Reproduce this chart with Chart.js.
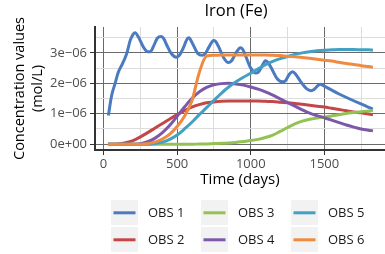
<!DOCTYPE html>
<html>
<head>
<meta charset="utf-8">
<script src="https://cdn.jsdelivr.net/npm/chart.js@4/dist/chart.umd.min.js"></script>
<style>
  html, body { margin: 0; padding: 0; background: #fff; }
  #wrap { width: 385px; height: 254px; }
</style>
</head>
<body>
<div id="wrap"><canvas id="ironChart" width="385" height="254"></canvas></div>
<script>
// values are in units of 1e-06 mol/L
const chartTitle = 'Iron (Fe)';
const seriesNames = ['OBS 1', 'OBS 2', 'OBS 3', 'OBS 4', 'OBS 5', 'OBS 6'];
const seriesColors = ['#4a7bc0', '#c44747', '#93c152', '#7b58a8', '#42a0c2', '#ef8b41'];

const obs1Days = [33, 55, 78, 101, 128, 157, 182, 200, 214, 237, 271, 300, 318, 340, 365, 392, 410, 430, 460, 495,
  515, 540, 567, 580, 600, 640, 670, 690, 715, 748, 760, 780, 815, 848, 870, 900, 930, 945, 965, 1000,
  1035, 1050, 1075, 1100, 1115, 1140, 1180, 1215, 1235, 1262, 1285, 1305, 1340, 1380, 1410, 1430, 1455, 1472, 1490, 1600, 1829];
const obs1 = [0.94, 1.60, 1.99, 2.37, 2.64, 2.97, 3.42, 3.60, 3.66, 3.52, 3.19, 3.04, 3.04, 3.22, 3.48, 3.54, 3.46, 3.25, 2.98, 2.86,
  2.92, 3.14, 3.45, 3.50, 3.35, 2.98, 2.92, 2.97, 3.18, 3.41, 3.38, 3.22, 2.85, 2.68, 2.74, 3.00, 3.17, 3.12, 2.90, 2.50,
  2.34, 2.36, 2.55, 2.74, 2.70, 2.50, 2.15, 2.05, 2.08, 2.30, 2.38, 2.30, 2.05, 1.82, 1.76, 1.80, 1.92, 1.97, 1.93, 1.65, 1.15];

const days = [30, 100, 150, 200, 250, 300, 350, 400, 450, 500, 550, 600, 650, 700, 750, 800, 850, 900, 950, 1000,
  1050, 1100, 1150, 1200, 1250, 1300, 1350, 1400, 1450, 1500, 1550, 1600, 1650, 1700, 1750, 1800, 1830];
const obs2 = [0, 0.01, 0.05, 0.12, 0.24, 0.38, 0.53, 0.68, 0.83, 0.97, 1.10, 1.22, 1.30, 1.36, 1.39, 1.41, 1.42, 1.42, 1.42, 1.42,
  1.42, 1.41, 1.40, 1.38, 1.36, 1.34, 1.31, 1.28, 1.25, 1.22, 1.18, 1.14, 1.10, 1.06, 1.03, 0.99, 0.97];
const obs3 = [0, 0, 0, 0, 0, 0, 0, 0, 0, 0, 0, 0, 0.005, 0.01, 0.02, 0.03, 0.04, 0.06, 0.09, 0.12,
  0.16, 0.22, 0.30, 0.42, 0.55, 0.67, 0.76, 0.82, 0.86, 0.89, 0.93, 0.97, 1.01, 1.04, 1.07, 1.09, 1.10];
const obs4 = [0, 0, 0, 0, 0.02, 0.08, 0.20, 0.38, 0.62, 0.92, 1.22, 1.50, 1.72, 1.87, 1.95, 1.99, 2.00, 1.98, 1.94, 1.88,
  1.81, 1.72, 1.61, 1.49, 1.37, 1.25, 1.13, 1.02, 0.94, 0.87, 0.79, 0.71, 0.63, 0.56, 0.50, 0.46, 0.44];
const obs5 = [0, 0, 0, 0, 0, 0, 0.02, 0.07, 0.16, 0.30, 0.50, 0.72, 0.97, 1.20, 1.44, 1.67, 1.88, 2.05, 2.20, 2.33,
  2.48, 2.61, 2.72, 2.81, 2.88, 2.95, 3.00, 3.04, 3.07, 3.09, 3.10, 3.11, 3.11, 3.11, 3.10, 3.10, 3.09];
const obs6 = [0, 0, 0, 0, 0, 0.02, 0.07, 0.17, 0.33, 0.58, 0.92, 1.42, 2.35, 2.90, 2.92, 2.93, 2.93, 2.93, 2.93, 2.93,
  2.93, 2.93, 2.92, 2.91, 2.89, 2.87, 2.85, 2.82, 2.79, 2.76, 2.73, 2.69, 2.65, 2.62, 2.58, 2.55, 2.53];

// major ticks get a label, minor ones only a light grid line
const xMajorTicks = [0, 500, 1000, 1500];
const xMinorTicks = [250, 750, 1250, 1750];
const yMajorTicks = [0, 1, 2, 3];
const yMinorTicks = [0.5, 1.5, 2.5, 3.5];
const yTickLabels = ['0e+00', '1e\u221206', '2e\u221206', '3e\u221206'];

const font = '"Open Sans", "Noto Sans", sans-serif';

const seriesData = [obs1, obs2, obs3, obs4, obs5, obs6];
const datasets = seriesData.map((vals, i) => {
  const xs = i === 0 ? obs1Days : days;
  return {
    label: seriesNames[i],
    data: vals.map((v, j) => ({ x: xs[j], y: v })),
    borderColor: seriesColors[i],
    backgroundColor: seriesColors[i],
    borderWidth: 3,
    pointRadius: 0,
    cubicInterpolationMode: 'monotone',
    fill: false,
    order: 6 - i
  };
});

function setTicks(major, minor) {
  return s => {
    s.ticks = major.concat(minor).sort((a, b) => a - b).map(v => ({ value: v, major: major.includes(v) }));
  };
}

// title + ggplot style legend (2 rows, filled by column)
const extras = {
  id: 'extras',
  afterDraw(chart) {
    const ctx = chart.ctx;
    ctx.save();
    ctx.fillStyle = '#000';
    ctx.font = '16.5px ' + font;
    ctx.textAlign = 'center';
    ctx.textBaseline = 'alphabetic';
    ctx.fillText(chartTitle, 236, 15.5);

    ctx.font = '13px ' + font;
    ctx.textAlign = 'left';
    ctx.textBaseline = 'middle';
    seriesNames.forEach((name, i) => {
      const col = Math.floor(i / 2), row = i % 2;
      const bx = 111 + col * 90, by = 200 + row * 27;
      ctx.fillStyle = '#f2f2f2';
      ctx.fillRect(bx, by, 27, 25);
      ctx.strokeStyle = seriesColors[i];
      ctx.lineWidth = 3;
      ctx.beginPath();
      ctx.moveTo(bx + 2.5, by + 12.8);
      ctx.lineTo(bx + 24.5, by + 12.8);
      ctx.stroke();
      ctx.fillStyle = '#1a1a1a';
      ctx.fillText(name, bx + 37, by + 13.5);
    });
    ctx.restore();
  }
};

new Chart(document.getElementById('ironChart'), {
  type: 'line',
  data: { datasets: datasets },
  options: {
    responsive: false,
    animation: false,
    devicePixelRatio: 1,
    layout: { padding: { top: 27, bottom: 64, left: 0, right: 0 } },
    plugins: {
      legend: { display: false },
      tooltip: { enabled: false }
    },
    scales: {
      x: {
        type: 'linear',
        min: -58,
        max: 1912,
        afterBuildTicks: setTicks(xMajorTicks, xMinorTicks),
        afterFit: s => { s.height = 40; },
        ticks: {
          autoSkip: false,
          maxRotation: 0,
          padding: 1,
          color: '#4d4d4d',
          font: { family: font, size: 13 },
          callback: v => xMajorTicks.includes(v) ? String(v) : ''
        },
        grid: {
          color: c => xMajorTicks.includes(c.tick.value) ? '#6a6a6a' : '#dcdcdc',
          lineWidth: 1,
          tickLength: 5,
          tickColor: c => xMajorTicks.includes(c.tick.value) ? '#333' : 'rgba(0,0,0,0)'
        },
        border: { display: true, color: '#333', width: 2 },
        title: {
          display: true,
          text: 'Time (days)',
          color: '#000',
          font: { family: font, size: 15 },
          padding: { top: 0, bottom: 1 }
        }
      },
      y: {
        type: 'linear',
        min: -0.19,
        max: 3.85,
        afterBuildTicks: setTicks(yMajorTicks, yMinorTicks),
        afterFit: s => { s.width = 95; },
        ticks: {
          autoSkip: false,
          padding: 3,
          color: '#4d4d4d',
          font: { family: font, size: 13 },
          callback: v => {
            const k = yMajorTicks.indexOf(v);
            return k < 0 ? '' : yTickLabels[k];
          }
        },
        grid: {
          color: c => yMajorTicks.includes(c.tick.value) ? '#6a6a6a' : '#dcdcdc',
          lineWidth: 1,
          tickLength: 5,
          tickColor: c => yMajorTicks.includes(c.tick.value) ? '#333' : 'rgba(0,0,0,0)'
        },
        border: { display: true, color: '#333', width: 2 },
        title: {
          display: true,
          text: ['Concentration values', '(mol/L)'],
          color: '#000',
          font: { family: font, size: 14.5, lineHeight: 1.25 },
          padding: { top: 11, bottom: 0 }
        }
      }
    }
  },
  plugins: [extras]
});
</script>
</body>
</html>
